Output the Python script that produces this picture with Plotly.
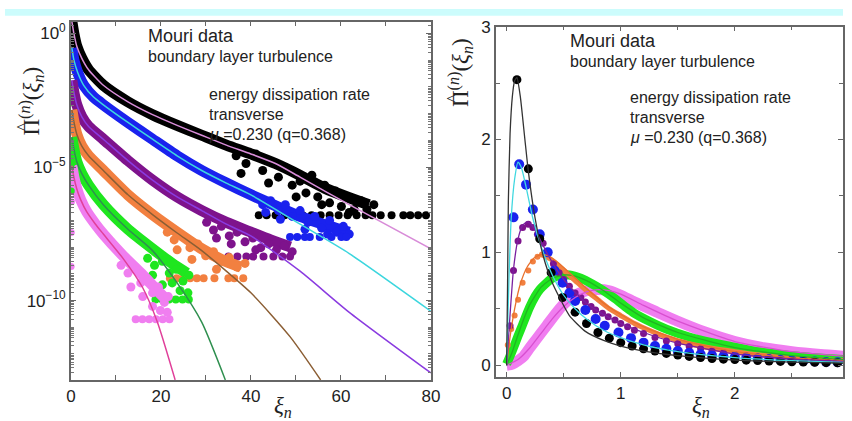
import plotly.graph_objects as go

# ================= LEFT PANEL (semi-log): x = xi_n, values stored as log10 =================
black_band_x = [0.22, 0.66, 1.31, 2.40, 3.93, 7.21, 12.68, 18.14, 23.61, 29.07, 34.54, 40.00, 45.46, 50.93, 56.39, 61.86, 66.23]
black_band_log = [0.44, 0.00, -0.48, -0.92, -1.36, -1.94, -2.56, -3.04, -3.44, -3.81, -4.18, -4.51, -4.87, -5.31, -5.79, -6.15, -6.41]
blue_band_x = [0.22, 0.66, 1.53, 2.84, 5.03, 7.21, 12.68, 18.14, 23.61, 29.07, 34.54, 40.00, 45.46, 50.93, 57.49, 61.86]
blue_band_log = [-0.55, -0.99, -1.47, -1.94, -2.38, -2.67, -3.33, -3.96, -4.58, -5.13, -5.60, -6.04, -6.45, -6.85, -7.22, -7.44]
purple_band_x = [0.22, 0.66, 1.31, 2.40, 3.93, 7.21, 12.68, 18.14, 23.61, 29.07, 34.54, 40.00, 44.37, 48.74]
purple_band_log = [-1.76, -2.20, -2.67, -3.11, -3.48, -3.96, -4.76, -5.49, -6.12, -6.63, -7.07, -7.44, -7.73, -7.99]
orange_band_x = [0.22, 0.66, 1.31, 2.40, 3.93, 7.21, 12.68, 18.14, 23.61, 29.07, 33.44, 37.81]
orange_band_log = [-2.86, -3.30, -3.77, -4.21, -4.58, -5.13, -6.04, -6.78, -7.44, -8.06, -8.46, -8.75]
green_band_x = [0.22, 0.66, 1.31, 2.40, 3.93, 7.21, 12.68, 18.14, 22.51, 25.79]
green_band_log = [-3.88, -4.32, -4.80, -5.24, -5.68, -6.41, -7.33, -8.06, -8.61, -8.97]
pink_band_x = [0.22, 0.66, 1.31, 2.19, 3.50, 5.46, 7.21, 11.58, 15.96, 19.23, 21.42]
pink_band_log = [-4.95, -5.38, -5.82, -6.23, -6.67, -7.14, -7.51, -8.32, -9.05, -9.63, -10.00]

black_cloud_x = [36.72, 38.91, 41.09, 42.62, 44.37, 46.12, 47.65, 49.18, 50.93, 52.24, 53.55, 54.86, 56.39,
                 57.49, 58.80, 60.11, 61.42, 62.95, 64.48, 65.79, 37.81, 43.93, 50.05, 55.74, 61.86, 67.32]
black_cloud_log = [-4.58, -4.87, -4.51, -5.13, -4.80, -5.38, -5.02, -5.68, -5.53, -5.97, -5.31, -6.12, -5.68,
                   -6.34, -5.90, -6.48, -6.12, -6.59, -6.26, -6.59, -5.24, -5.60, -6.12, -6.41, -6.70, -6.41]
black_tail_x = [41.75, 43.5, 45.5, 47.5, 49.5, 51.5, 53.5, 55.5, 57.5, 59.5, 61.5, 63.5, 65.5, 67.0,
                68.85, 71.26, 73.88, 75.41, 77.16, 78.91]
black_tail_log = -6.81
blue_cloud_x = [41.09, 42.62, 44.37, 46.12, 47.65, 49.18, 50.93, 52.68, 54.21, 55.74, 57.49, 59.02, 60.55,
                61.86, 46.56, 52.02, 57.05, 43.28]
blue_cloud_log = [-6.12, -6.41, -6.26, -6.63, -6.41, -6.85, -6.63, -7.07, -6.85, -7.29, -7.00, -7.44, -7.22,
                  -7.51, -6.96, -7.33, -7.51, -6.70]
blue_tail_x = [48.7, 50.3, 52.0, 53.1, 55.3, 57.9, 60.1, 61.2]
blue_tail_log = -7.62
purple_cloud_x = [30.16, 31.69, 33.44, 35.19, 36.94, 38.69, 40.44, 42.19, 43.93, 45.68, 47.43, 49.18, 35.63,
                  41.09, 32.35]
purple_cloud_log = [-7.07, -7.36, -7.22, -7.58, -7.44, -7.80, -7.66, -8.02, -7.88, -8.10, -7.95, -8.17, -7.88,
                    -8.10, -7.66]
purple_tail_x = [35.0, 37.0, 39.0, 40.5, 42.8, 45.0, 47.0, 48.7]
purple_tail_log = -8.35
orange_cloud_x = [21.42, 22.95, 24.70, 26.45, 28.20, 29.95, 31.69, 33.44, 35.19, 36.94, 38.69, 26.89, 32.35, 23.61]
orange_cloud_log = [-7.44, -7.73, -7.58, -8.02, -7.88, -8.32, -8.17, -8.53, -8.39, -8.75, -8.61, -8.46, -8.83, -8.10]
orange_tail_x = [22.0, 23.5, 25.0, 26.5, 28.0, 29.5, 31.9, 35.0, 36.3, 38.3]
orange_tail_log = -9.16
green_cloud_x = [17.05, 18.58, 20.33, 21.86, 23.39, 24.92, 26.23, 24.26, 20.33, 18.14, 26.01, 22.51]
green_cloud_log = [-8.42, -8.68, -8.53, -8.97, -8.83, -9.27, -9.05, -9.63, -9.41, -9.05, -9.71, -9.34]
green_tail_x = [18.8, 20.3, 21.8, 23.3, 24.8, 26.2]
green_tail_log = -9.96
pink_cloud_x = [11.15, 12.68, 14.21, 15.52, 17.05, 18.14, 19.45, 20.77, 21.64, 19.89, 15.96, 13.33, 18.14, 21.42]
pink_cloud_log = [-8.68, -8.97, -8.83, -9.34, -9.19, -9.71, -9.49, -10.07, -9.85, -10.37, -9.85, -9.49, -10.22, -10.44]
pink_tail_x = [14.4, 15.9, 17.4, 18.9, 20.4, 21.9]
pink_tail_log = -10.7
edge_x = [0.10, 0.12, 0.08, 0.05, 0.12, 0.08]
edge_log = [-3.59, -6.30, -7.45, -8.72, -4.90, -5.90]
edge_colors = ["#f28040", "#f07ef0", "#f07ef0", "#f07ef0", "#1fe61f", "#1fe61f"]

black_fit_x = [0.22, 0.66, 1.31, 2.40, 3.93, 7.21, 12.68, 18.14, 23.61, 29.07, 34.54, 40.00, 45.46, 50.93, 61.86, 80.0]
black_fit_log = [0.44, 0.00, -0.48, -0.92, -1.36, -1.94, -2.56, -3.04, -3.44, -3.81, -4.18, -4.51, -4.87, -5.38, -6.41, -8.06]
blue_fit_x = [0.22, 0.66, 1.53, 2.84, 5.03, 7.21, 12.68, 18.14, 23.61, 29.07, 34.54, 40.00, 50.93, 61.86, 80.0]
blue_fit_log = [-0.55, -0.99, -1.47, -1.94, -2.38, -2.67, -3.33, -3.96, -4.58, -5.13, -5.60, -6.04, -7.14, -8.24, -10.40]
purple_fit_x = [0.22, 0.66, 1.31, 2.40, 3.93, 7.21, 12.68, 18.14, 23.61, 29.07, 34.54, 40.0, 50.93, 61.86, 80.0]
purple_fit_log = [-1.76, -2.20, -2.67, -3.11, -3.48, -3.96, -4.76, -5.49, -6.12, -6.63, -7.14, -7.58, -8.90, -10.44, -12.71]
orange_fit_x = [0.22, 0.66, 1.31, 2.40, 3.93, 7.21, 12.68, 18.14, 23.61, 29.07, 40.0, 48.74, 55.5]
orange_fit_log = [-2.86, -3.30, -3.77, -4.21, -4.58, -5.13, -6.04, -6.78, -7.47, -8.13, -9.71, -11.36, -12.97]
green_fit_x = [0.22, 0.66, 1.31, 2.40, 3.93, 7.21, 12.68, 18.14, 23.61, 29.07, 34.32]
green_fit_log = [-3.88, -4.32, -4.80, -5.24, -5.68, -6.41, -7.33, -8.13, -9.34, -10.81, -12.97]
pink_fit_x = [0.22, 0.66, 1.31, 2.19, 3.50, 5.46, 7.21, 11.58, 15.96, 19.23, 23.17]
pink_fit_log = [-4.95, -5.38, -5.82, -6.23, -6.67, -7.14, -7.51, -8.42, -9.52, -10.81, -12.97]

# ================= RIGHT PANEL (linear) =================
black_r_x = [0.09, 0.19, 0.29, 0.39, 0.49, 0.60, 0.70, 0.80, 0.90, 1.00, 1.10, 1.20, 1.30, 1.40, 1.50,
             1.60, 1.70, 1.80, 1.90, 2.00, 2.10, 2.20, 2.30, 2.40, 2.50, 2.60, 2.70, 2.80, 2.90]
black_r_y = [2.53, 1.74, 1.12, 0.82, 0.60, 0.47, 0.37, 0.29, 0.24, 0.20, 0.17, 0.145, 0.125, 0.105, 0.09,
             0.078, 0.068, 0.060, 0.054, 0.050, 0.045, 0.041, 0.037, 0.034, 0.031, 0.028, 0.026, 0.023, 0.021]
blue_r_x = [0.06, 0.11, 0.17, 0.23, 0.29, 0.36, 0.42, 0.49, 0.55, 0.60, 0.69, 0.78, 0.86, 0.98, 1.09, 1.2,
            1.3, 1.4, 1.5, 1.6, 1.7, 1.8, 1.9, 2.0, 2.1, 2.2, 2.3, 2.4, 2.5, 2.6, 2.7, 2.8, 2.9]
blue_r_y = [1.31, 1.78, 1.60, 1.38, 1.16, 1.0, 0.84, 0.73, 0.64, 0.57, 0.49, 0.41, 0.35, 0.29, 0.24, 0.20,
            0.17, 0.145, 0.125, 0.11, 0.097, 0.087, 0.079, 0.072, 0.065, 0.058, 0.052, 0.047, 0.042, 0.037,
            0.033, 0.029, 0.026]
purple_r_x = [0.03, 0.06, 0.10, 0.14, 0.19, 0.23, 0.27, 0.32, 0.36, 0.41, 0.46, 0.50, 0.55, 0.60, 0.65,
              0.69, 0.74, 0.78, 0.84, 0.89, 0.95, 1.0, 1.06, 1.12, 1.2, 1.3, 1.4, 1.5, 1.6, 1.7, 1.8, 1.9,
              2.0, 2.1, 2.2, 2.3, 2.4, 2.5, 2.6, 2.7, 2.8, 2.9]
purple_r_y = [0.35, 0.84, 1.10, 1.22, 1.25, 1.22, 1.16, 1.08, 0.99, 0.90, 0.82, 0.76, 0.70, 0.64, 0.60,
              0.56, 0.52, 0.49, 0.46, 0.43, 0.40, 0.37, 0.34, 0.31, 0.28, 0.245, 0.215, 0.19, 0.165, 0.145,
              0.125, 0.11, 0.095, 0.085, 0.075, 0.066, 0.058, 0.051, 0.045, 0.040, 0.035, 0.031]
orange_r_x = [0.01, 0.04, 0.07, 0.10, 0.14, 0.19, 0.23, 0.27, 0.31, 0.35]
orange_r_y = [0.18, 0.32, 0.44, 0.58, 0.73, 0.84, 0.92, 0.96, 0.98, 0.97]
orange_band_r_x = [0.31, 0.4, 0.5, 0.6, 0.7, 0.8, 0.9, 1.0, 1.12, 1.25, 1.4, 1.6, 1.8, 2.0, 2.2, 2.4, 2.6, 2.8, 2.95]
orange_band_r_y = [0.98, 0.93, 0.84, 0.75, 0.66, 0.58, 0.50, 0.44, 0.37, 0.31, 0.25, 0.19, 0.15, 0.12, 0.092,
                   0.072, 0.057, 0.046, 0.040]
green_band_r_x = [0, 0.05, 0.10, 0.14, 0.20, 0.25, 0.29, 0.35, 0.40, 0.49, 0.55, 0.65, 0.75, 0.85, 0.95, 1.05,
                  1.12, 1.25, 1.4, 1.6, 1.8, 2.0, 2.2, 2.4, 2.6, 2.8, 2.95]
green_band_r_y = [0.01, 0.13, 0.26, 0.36, 0.51, 0.61, 0.67, 0.73, 0.77, 0.80, 0.80, 0.77, 0.72, 0.66, 0.59, 0.51,
                  0.46, 0.39, 0.32, 0.25, 0.20, 0.16, 0.12, 0.095, 0.075, 0.06, 0.05]
pink_band_r_x = [0, 0.05, 0.10, 0.15, 0.20, 0.26, 0.35, 0.49, 0.60, 0.70, 0.80, 0.90, 1.0, 1.12, 1.32, 1.5,
                 1.75, 2.0, 2.25, 2.5, 2.75, 2.95]
pink_band_r_y = [0, 0.01, 0.04, 0.08, 0.15, 0.23, 0.35, 0.53, 0.62, 0.66, 0.67, 0.66, 0.62, 0.56, 0.47, 0.39,
                 0.29, 0.21, 0.155, 0.12, 0.095, 0.08]

black_fit_r_x = [0, 0.008, 0.015, 0.03, 0.05, 0.07, 0.09, 0.12, 0.16, 0.19, 0.25, 0.32, 0.40, 0.55, 0.69,
                 0.85, 1.0, 1.2, 1.5, 2.0, 2.5, 2.95]
black_fit_r_y = [0, 0.7, 1.45, 2.05, 2.38, 2.52, 2.55, 2.38, 2.0, 1.72, 1.3, 0.97, 0.73, 0.44, 0.30, 0.22,
                 0.17, 0.125, 0.085, 0.045, 0.028, 0.018]
blue_fit_r_x = [0, 0.02, 0.04, 0.07, 0.10, 0.13, 0.17, 0.23, 0.30, 0.40, 0.50, 0.60, 0.70, 0.85, 1.0, 1.2,
                1.5, 2.0, 2.5, 2.95]
blue_fit_r_y = [0, 0.75, 1.3, 1.65, 1.8, 1.75, 1.58, 1.3, 1.06, 0.8, 0.62, 0.5, 0.41, 0.31, 0.245, 0.18,
                0.12, 0.068, 0.04, 0.026]
purple_fit_r_x = [0, 0.03, 0.06, 0.10, 0.14, 0.18, 0.22, 0.28, 0.35, 0.45, 0.55, 0.7, 0.85, 1.0, 1.2, 1.5,
                  2.0, 2.5, 2.95]
purple_fit_r_y = [0, 0.45, 0.85, 1.12, 1.24, 1.27, 1.24, 1.14, 1.0, 0.83, 0.70, 0.55, 0.45, 0.37, 0.29,
                  0.195, 0.10, 0.055, 0.033]
orange_fit_r_x = [0, 0.03, 0.07, 0.12, 0.18, 0.24, 0.30, 0.36, 0.45, 0.55, 0.7, 0.85, 1.0, 1.2, 1.5, 2.0,
                  2.5, 2.95]
orange_fit_r_y = [0, 0.25, 0.5, 0.72, 0.87, 0.95, 0.98, 0.97, 0.91, 0.82, 0.68, 0.55, 0.45, 0.34, 0.23,
                  0.12, 0.065, 0.04]
green_fit_r_x = [0, 0.05, 0.1, 0.15, 0.2, 0.3, 0.4, 0.5, 0.6, 0.7, 0.85, 1.0, 1.2, 1.5, 2.0, 2.5, 2.95]
green_fit_r_y = [0, 0.12, 0.27, 0.41, 0.53, 0.69, 0.77, 0.80, 0.79, 0.75, 0.66, 0.55, 0.42, 0.29, 0.155,
                 0.085, 0.05]
pink_fit_r_x = [0, 0.1, 0.2, 0.3, 0.4, 0.5, 0.6, 0.7, 0.8, 0.9, 1.0, 1.2, 1.5, 2.0, 2.5, 2.95]
pink_fit_r_y = [0, 0.05, 0.15, 0.28, 0.41, 0.52, 0.60, 0.65, 0.67, 0.66, 0.63, 0.53, 0.39, 0.21, 0.12, 0.08]

# tick labels
left_x_ticks = [0, 20, 40, 60, 80]
left_x_minor = [10, 30, 50, 70]
left_y_ticks = [1e0, 1e-5, 1e-10]
left_y_labels = ["10<sup>0</sup>", "10<sup>\u22125</sup>", "10<sup>\u221210</sup>"]
right_x_ticks = [0, 1, 2]
right_x_minor = [0.5, 1.5, 2.5]
right_y_ticks = [0, 1, 2, 3]
right_y_minor = [0.5, 1.5, 2.5]

C_BLACK, C_BLUE, C_PURPLE = "#000000", "#1a22ee", "#7e138c"
C_ORANGE, C_GREEN, C_PINK = "#f28040", "#1fe61f", "#f07ef0"


def lin(vals):
    return [10 ** v for v in vals]


W, H = 852, 421
fig = go.Figure()


def add(x, y, mode, color, size=8, width=2, ax="l", shape="spline", smooth=0.6):
    xa, ya = ("x", "y") if ax == "l" else ("x2", "y2")
    kw = dict(x=x, y=y, mode=mode, xaxis=xa, yaxis=ya, hoverinfo="skip", showlegend=False)
    if "lines" in mode:
        kw["line"] = dict(color=color, width=width, shape=shape, smoothing=smooth)
    if "markers" in mode:
        kw["marker"] = dict(color=color, size=size, line=dict(width=0))
    fig.add_trace(go.Scatter(**kw))


bands = [
    (black_band_x, black_band_log, black_cloud_x, black_cloud_log, black_tail_x, black_tail_log, C_BLACK),
    (blue_band_x, blue_band_log, blue_cloud_x, blue_cloud_log, blue_tail_x, blue_tail_log, C_BLUE),
    (purple_band_x, purple_band_log, purple_cloud_x, purple_cloud_log, purple_tail_x, purple_tail_log, C_PURPLE),
    (orange_band_x, orange_band_log, orange_cloud_x, orange_cloud_log, orange_tail_x, orange_tail_log, C_ORANGE),
    (green_band_x, green_band_log, green_cloud_x, green_cloud_log, green_tail_x, green_tail_log, C_GREEN),
    (pink_band_x, pink_band_log, pink_cloud_x, pink_cloud_log, pink_tail_x, pink_tail_log, C_PINK),
]
for bx, bl, cx, cl, tx, tl, col in bands:
    add(bx, lin(bl), "lines", col, width=11)
    add(cx, lin(cl), "markers", col, size=9)
    add(tx, lin([tl] * len(tx)), "markers", col, size=8)
fig.add_trace(go.Scatter(x=edge_x, y=lin(edge_log), mode="markers", xaxis="x", yaxis="y",
                         marker=dict(color=edge_colors, size=7), hoverinfo="skip", showlegend=False))

for fx, fl, col in [
    (black_fit_x, black_fit_log, "#d88cd8"),
    (blue_fit_x, blue_fit_log, "#3cd6de"),
    (purple_fit_x, purple_fit_log, "#8a3be0"),
    (orange_fit_x, orange_fit_log, "#8b5e34"),
    (green_fit_x, green_fit_log, "#2f8f4f"),
    (pink_fit_x, pink_fit_log, "#e0409a"),
]:
    add(fx, lin(fl), "lines", col, width=1.5)

add(pink_band_r_x, pink_band_r_y, "lines", C_PINK, width=11, ax="r")
add(green_band_r_x, green_band_r_y, "lines", C_GREEN, width=9, ax="r")
add(orange_band_r_x, orange_band_r_y, "lines", C_ORANGE, width=5, ax="r")
add(orange_r_x, orange_r_y, "markers", C_ORANGE, size=6, ax="r")
add(purple_r_x, purple_r_y, "markers", C_PURPLE, size=7, ax="r")
add(blue_r_x, blue_r_y, "markers", C_BLUE, size=10, ax="r")
add(black_r_x, black_r_y, "markers", C_BLACK, size=9, ax="r")

for fx, fy, col in [
    (pink_fit_r_x, pink_fit_r_y, "#d84fd0"),
    (green_fit_r_x, green_fit_r_y, "#22b422"),
    (orange_fit_r_x, orange_fit_r_y, "#e8702c"),
    (purple_fit_r_x, purple_fit_r_y, "#7a1fa0"),
    (blue_fit_r_x, blue_fit_r_y, "#40d8e0"),
    (black_fit_r_x, black_fit_r_y, "#333333"),
]:
    add(fx, fy, "lines", col, width=1.3, ax="r", smooth=0.5)

TICKFONT = dict(family="Liberation Sans", size=17, color="#222")
AXLINE = dict(showline=True, linecolor="#666", linewidth=1.5, mirror="ticks", ticks="inside",
              tickcolor="#666", ticklen=5, showgrid=False, zeroline=False, tickfont=TICKFONT)

minor_log = [m * 10.0 ** k for k in range(-13, 1) for m in range(1, 10)]

fig.update_layout(
    width=W, height=H, margin=dict(l=0, r=0, t=0, b=0),
    paper_bgcolor="white", plot_bgcolor="white", showlegend=False,
    xaxis=dict(domain=[67 / W, 433 / W], range=[0, 80], tickmode="array",
               tickvals=left_x_ticks, ticktext=[str(v) for v in left_x_ticks], anchor="y",
               minor=dict(tickvals=left_x_minor, ticks="inside", ticklen=5, tickcolor="#666"), **AXLINE),
    yaxis=dict(domain=[1 - 379 / H, 1 - 13 / H], type="log", range=[-12.97, 0.44],
               tickmode="array", tickvals=left_y_ticks, ticktext=left_y_labels, anchor="x",
               minor=dict(tickvals=minor_log, ticks="inside", ticklen=3, tickcolor="#777"), **AXLINE),
    xaxis2=dict(domain=[499 / W, 1.0], range=[-0.095, 2.948], tickmode="array",
                tickvals=right_x_ticks, ticktext=[str(v) for v in right_x_ticks], anchor="y2",
                minor=dict(tickvals=right_x_minor, ticks="inside", ticklen=4, tickcolor="#666"), **AXLINE),
    yaxis2=dict(domain=[1 - 376 / H, 1 - 18 / H], range=[-0.104, 3.0], tickmode="array",
                tickvals=right_y_ticks, ticktext=[str(v) for v in right_y_ticks], anchor="x2",
                minor=dict(tickvals=right_y_minor, ticks="inside", ticklen=4, tickcolor="#666"), **AXLINE),
)

fig.add_shape(type="rect", xref="paper", yref="paper", x0=0, x1=1, y0=1 - 7 / H, y1=1,
              fillcolor="#ccfcfc", line=dict(width=0), layer="below")


def note(text, px, py, size=16, family="Liberation Sans", anchor="left", angle=0, color="#222"):
    fig.add_annotation(text=text, x=px / W, y=1 - py / H, xref="paper", yref="paper",
                       showarrow=False, xanchor=anchor if angle == 0 else "center", yanchor="middle",
                       textangle=angle, font=dict(family=family, size=size, color=color))


for ox, oy, ex, ey in [(143, 28, 205, 87), (572, 33, 633, 90)]:
    note("Mouri data", ox, oy, size=18)
    note("boundary layer turbulence", ox, oy + 21, size=16)
    note("energy dissipation rate", ex, ey, size=16)
    note("transverse", ex, ey + 21, size=16)
    note("<i>\u03bc</i> =0.230 (q=0.368)", ex, ey + 41, size=16)

ytitle = "\u03a0<sup>(<i>n</i>)</sup>(<i>\u03be<sub>n</sub></i>)"
for cx, cy in [(27, 94), (463, 65)]:
    note(ytitle, cx, cy, size=23, family="Liberation Serif", angle=-90)
    note("^", cx - 9, cy + 27, size=17, family="Liberation Serif", angle=-90)
note("<i>\u03be<sub>n</sub></i>", 283, 407, size=23, family="Liberation Serif", anchor="center")
note("<i>\u03be<sub>n</sub></i>", 708, 407, size=23, family="Liberation Serif", anchor="center")

fig.write_html("out.html")
